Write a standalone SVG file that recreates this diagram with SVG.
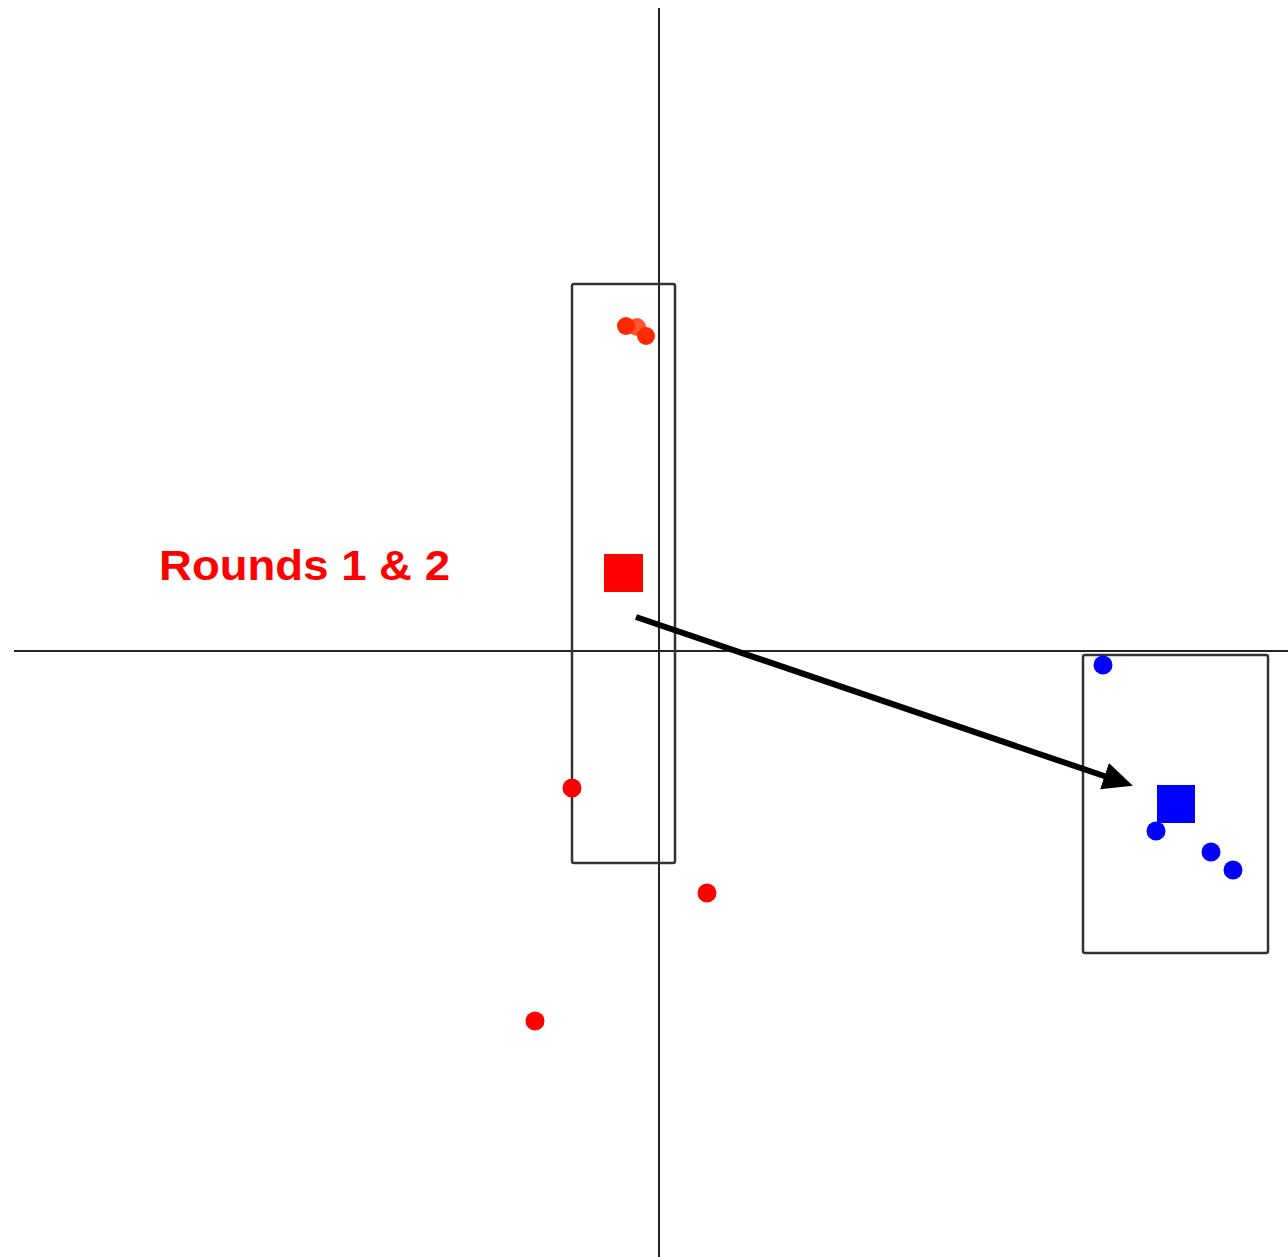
<svg xmlns="http://www.w3.org/2000/svg" width="1288" height="1257" viewBox="0 0 1288 1257">
<style>
.axis{stroke:#222;stroke-width:2;fill:none}
.box{stroke:#333;stroke-width:2.5;fill:none}
.red{fill:#ff0000}
.orange{fill:#ff2a00}
.blue{fill:#0000ff}
.lbl{font-family:"Liberation Sans",Arial,sans-serif;font-weight:bold;font-size:42px;fill:#ff0000}
</style>
<defs>
<marker id="ah" markerWidth="5" markerHeight="5" refX="1.5" refY="2.5" orient="auto" markerUnits="strokeWidth">
<path d="M0,0.2 L5,2.5 L0,4.8 z" fill="#000"/>
</marker>
</defs>
<rect width="1288" height="1257" fill="#fff"/>
<g id="axes">
<line class="axis" x1="659" y1="8" x2="659" y2="1257"/>
<line class="axis" x1="14" y1="651" x2="1288" y2="651"/>
</g>
<g id="left-box"><rect class="box" x="572" y="284" width="103" height="579" rx="2"/></g>
<g id="right-box"><rect class="box" x="1083" y="655" width="185" height="298" rx="2"/></g>
<g id="red-points">
<circle class="orange" cx="637" cy="327" r="9" opacity="0.8"/>
<circle class="orange" cx="626" cy="326" r="9"/>
<circle class="orange" cx="646" cy="336" r="9"/>
<circle class="red" cx="572" cy="788" r="9.5"/>
<circle class="red" cx="707" cy="893" r="9.5"/>
<circle class="red" cx="535" cy="1021" r="9.5"/>
<rect class="red" x="604" y="554" width="39" height="38"/>
</g>
<g id="blue-points">
<circle class="blue" cx="1103" cy="665" r="9.5"/>
<rect class="blue" x="1157" y="785" width="38" height="38"/>
<circle class="blue" cx="1156" cy="831" r="9.5"/>
<circle class="blue" cx="1211" cy="852" r="9.5"/>
<circle class="blue" cx="1233" cy="870" r="9.5"/>
</g>
<g id="connectors">
<line x1="636" y1="617" x2="1113" y2="779" stroke="#000" stroke-width="6" marker-end="url(#ah)"/>
</g>
<g id="label">
<text class="lbl" x="159" y="580" textLength="291" lengthAdjust="spacingAndGlyphs">Rounds 1 &amp; 2</text>
</g>
</svg>
